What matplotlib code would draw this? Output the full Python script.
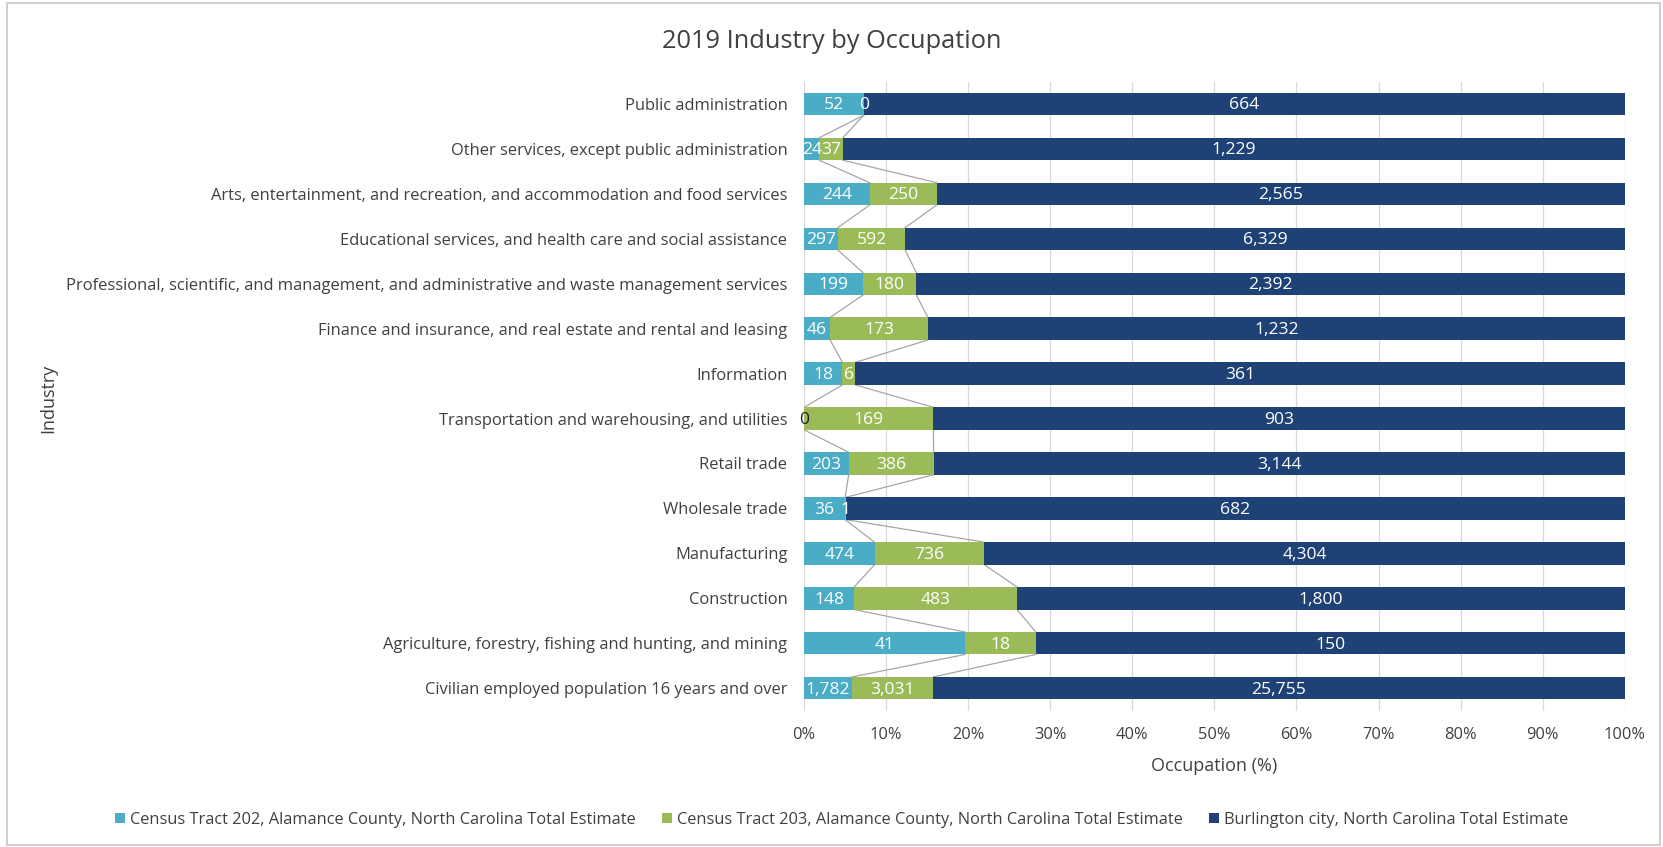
import matplotlib
matplotlib.use("Agg")
import matplotlib.pyplot as plt
import numpy as np
from matplotlib.patches import Rectangle

# categories from bottom to top (Excel order)
categories = [
    "Civilian employed population 16 years and over",
    "Agriculture, forestry, fishing and hunting, and mining",
    "Construction",
    "Manufacturing",
    "Wholesale trade",
    "Retail trade",
    "Transportation and warehousing, and utilities",
    "Information",
    "Finance and insurance, and real estate and rental and leasing",
    "Professional, scientific, and management, and administrative and waste management services",
    "Educational services, and health care and social assistance",
    "Arts, entertainment, and recreation, and accommodation and food services",
    "Other services, except public administration",
    "Public administration",
]
tract202 = [1782, 41, 148, 474, 36, 203, 0, 18, 46, 199, 297, 244, 24, 52]
tract203 = [3031, 18, 483, 736, 1, 386, 169, 6, 173, 180, 592, 250, 37, 0]
burlington = [25755, 150, 1800, 4304, 682, 3144, 903, 361, 1232, 2392, 6329, 2565, 1229, 664]
series_names = [
    "Census Tract 202, Alamance County, North Carolina Total Estimate",
    "Census Tract 203, Alamance County, North Carolina Total Estimate",
    "Burlington city, North Carolina Total Estimate",
]
colors = ["#4BACC6", "#9BBB59", "#1F4276"]

plt.rcParams['font.family'] = ['Open Sans', 'DejaVu Sans']

counts = np.array([tract202, tract203, burlington], dtype=float)
pct = counts / counts.sum(axis=0) * 100
cum = np.vstack([np.zeros(len(categories)), np.cumsum(pct, axis=0)])

fig = plt.figure(figsize=(16.63, 8.47), dpi=100)
ax = fig.add_axes([0.4835, 0.161, 0.4935, 0.7427])

y = np.arange(len(categories))
h = 0.5
for s in range(3):
    ax.barh(y, pct[s], left=cum[s], height=h, color=colors[s],
            label=series_names[s], zorder=3)
    for i in range(len(categories)):
        v = counts[s, i]
        xc = cum[s, i] + pct[s, i] / 2
        col = "white"
        if v == 0 and cum[s, i] == 0:
            col = "#222222"
        ax.text(xc, y[i] - 0.03, f"{int(v):,}", ha="center", va="center",
                color=col, fontsize=12.6, zorder=5)

# series lines between bars
for s in (1, 2):
    for i in range(len(categories) - 1):
        ax.plot([cum[s, i], cum[s, i + 1]], [y[i] + h / 2, y[i + 1] - h / 2],
                color="#A6A6A6", lw=0.9, zorder=2)

ax.set_xlim(0, 100)
ax.set_ylim(-0.5, len(categories) - 0.5)
ax.set_xticks(np.arange(0, 101, 10))
ax.set_xticklabels([f"{t}%" for t in range(0, 101, 10)], fontsize=11.8, color="#404040")
ax.set_yticks(y)
ax.set_yticklabels(categories, fontsize=11.9, color="#404040")
ax.tick_params(length=0, pad=12)
ax.tick_params(axis='x', pad=12)
ax.grid(axis="x", color="#D9D9D9", lw=0.9, zorder=0)
for sp in ax.spines.values():
    sp.set_visible(False)

ax.set_xlabel("Occupation (%)", fontsize=13, color="#404040", labelpad=10)
fig.text(0.029, 0.53, "Industry", rotation=90, fontsize=13, color="#404040",
         ha="center", va="center")
fig.text(0.5, 0.951, "2019 Industry by Occupation", fontsize=18.3, color="#404040",
         ha="center", va="center")

fig.legend(loc="center", bbox_to_anchor=(0.506, 0.032), ncol=3, frameon=False,
           fontsize=11.8, handlelength=0.6, handleheight=0.6, handletextpad=0.3,
           columnspacing=1.6, labelcolor="#404040")

# outer frame like the screenshot
fig.patches.append(Rectangle((0.004, 0.002), 0.994, 0.994, transform=fig.transFigure,
                             fill=False, edgecolor="#D0D0D0", lw=1.5))

fig.savefig("out.png", dpi=100, facecolor="white")
